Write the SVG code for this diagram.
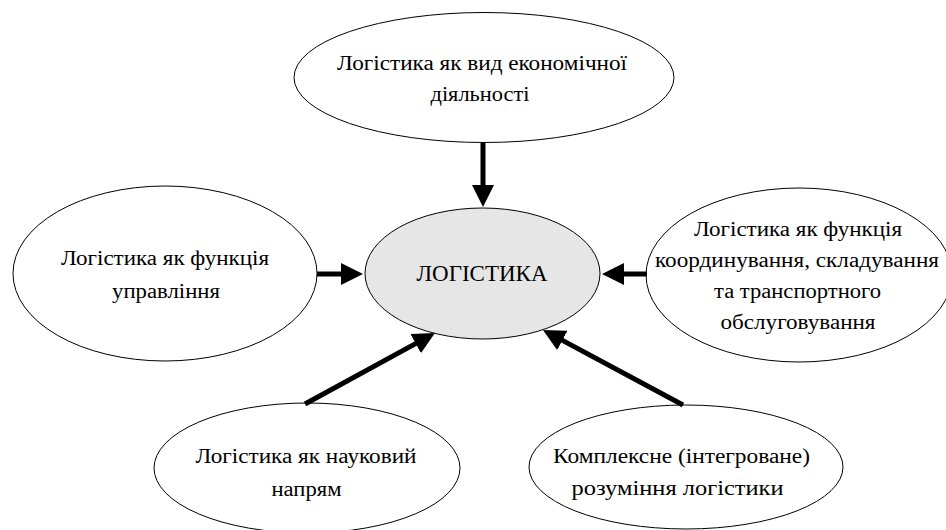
<svg xmlns="http://www.w3.org/2000/svg" width="946" height="530" viewBox="0 0 946 530">
<style>
.node ellipse{fill:#ffffff;stroke:#000000;stroke-width:1}
#center ellipse{fill:#e6e6e6}
.conn line{stroke:#000000;stroke-width:5;marker-end:url(#ah)}
</style>
<defs>
<marker id="ah" markerUnits="userSpaceOnUse" viewBox="0 0 22 22" refX="2" refY="11" markerWidth="22" markerHeight="22" orient="auto">
<path d="M0,0 L22,11 L0,22 Z" fill="#000000"/>
</marker>
</defs>
<rect x="0" y="0" width="946" height="530" fill="#ffffff"/>
<g font-family="'Liberation Serif', 'DejaVu Serif', serif" font-size="20" fill="#000000" text-anchor="middle">
<g id="top" class="node">
<ellipse cx="484" cy="77.5" rx="190" ry="65"/>
<text x="482" y="70" textLength="290" lengthAdjust="spacingAndGlyphs">Логістика як вид економічної</text>
<text x="480" y="101" textLength="99" lengthAdjust="spacingAndGlyphs">діяльності</text>
</g>
<g id="left" class="node">
<ellipse cx="165" cy="273.5" rx="152" ry="87.5"/>
<text x="165" y="265" textLength="208" lengthAdjust="spacingAndGlyphs">Логістика як функція</text>
<text x="166" y="298" textLength="108" lengthAdjust="spacingAndGlyphs">управління</text>
</g>
<g id="center" class="node">
<ellipse cx="482.5" cy="273.5" rx="117.5" ry="65.5"/>
<text x="482" y="281" font-size="23" textLength="131" lengthAdjust="spacingAndGlyphs">ЛОГІСТИКА</text>
</g>
<g id="right" class="node">
<ellipse cx="799" cy="275" rx="153" ry="87"/>
<text x="798" y="236" textLength="208" lengthAdjust="spacingAndGlyphs">Логістика як функція</text>
<text x="797" y="267" textLength="284" lengthAdjust="spacingAndGlyphs">координування, складування</text>
<text x="797.5" y="297.5" textLength="167" lengthAdjust="spacingAndGlyphs">та транспортного</text>
<text x="798" y="328.5" textLength="155" lengthAdjust="spacingAndGlyphs">обслуговування</text>
</g>
<g id="bottom-left" class="node">
<ellipse cx="307" cy="468" rx="153" ry="65"/>
<text x="306" y="463" textLength="221" lengthAdjust="spacingAndGlyphs">Логістика як науковий</text>
<text x="306.5" y="495.5" textLength="70" lengthAdjust="spacingAndGlyphs">напрям</text>
</g>
<g id="bottom-right" class="node">
<ellipse cx="686" cy="467" rx="157" ry="62"/>
<text x="681.5" y="462.5" textLength="257" lengthAdjust="spacingAndGlyphs">Комплексне (інтегроване)</text>
<text x="677.5" y="495" textLength="212" lengthAdjust="spacingAndGlyphs">розуміння логістики</text>
</g>
</g>
<g id="connectors" class="conn">
<line x1="483" y1="143" x2="483" y2="187"/>
<line x1="317" y1="274" x2="343" y2="274"/>
<line x1="647" y1="274" x2="622" y2="274"/>
<line x1="305" y1="404" x2="417.4" y2="342.6"/>
<line x1="683" y1="405" x2="560.6" y2="339.4"/>
</g>
</svg>
